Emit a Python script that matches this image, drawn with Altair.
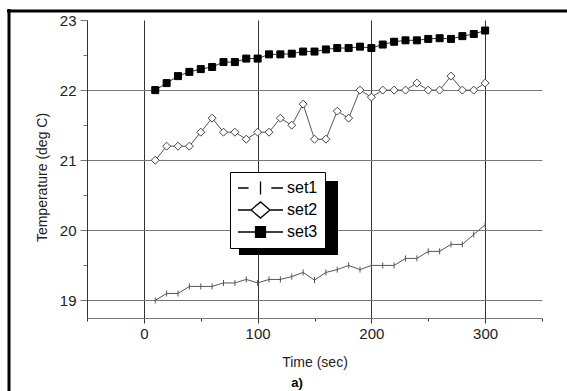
import altair as alt
import pandas as pd

# ---- data ----
time = list(range(10, 301, 10))
set1 = [19.0, 19.1, 19.1, 19.2, 19.2, 19.2, 19.25, 19.25, 19.3, 19.25,
        19.3, 19.3, 19.34, 19.4, 19.29, 19.4, 19.44, 19.5, 19.44, 19.5,
        19.5, 19.5, 19.6, 19.6, 19.7, 19.7, 19.8, 19.8, 19.94, 20.08]
set2 = [21.0, 21.2, 21.2, 21.2, 21.4, 21.6, 21.4, 21.4, 21.3, 21.4,
        21.4, 21.6, 21.5, 21.8, 21.3, 21.3, 21.7, 21.6, 22.0, 21.9,
        22.0, 22.0, 22.0, 22.1, 22.0, 22.0, 22.2, 22.0, 22.0, 22.1]
set3 = [22.0, 22.1, 22.2, 22.26, 22.3, 22.33, 22.4, 22.4, 22.45, 22.45,
        22.51, 22.51, 22.52, 22.55, 22.55, 22.58, 22.6, 22.6, 22.62, 22.6,
        22.65, 22.69, 22.71, 22.71, 22.73, 22.74, 22.73, 22.77, 22.8, 22.85]
series_names = ["set1", "set2", "set3"]
x_ticks = [-50, 0, 50, 100, 150, 200, 250, 300, 350]
y_ticks = [19, 19.5, 20, 20.5, 21, 21.5, 22, 22.5, 23]
caption = "a)"

FONT = "Liberation Sans"

df = pd.DataFrame({
    "time": time * 3,
    "temp": set1 + set2 + set3,
    "series": ["set1"] * len(time) + ["set2"] * len(time) + ["set3"] * len(time),
})

x_enc = alt.X(
    "time:Q",
    scale=alt.Scale(domain=[-50, 350], nice=False, zero=False),
    axis=alt.Axis(
        values=x_ticks, title="Time (sec)",
        labelExpr="datum.value % 100 === 0 ? '' + datum.value : ''",
        grid=True, gridColor="#333333", gridWidth=1,
        gridOpacity={"condition": {"test": "datum.value % 100 === 0", "value": 1}, "value": 0},
        tickSize={"condition": {"test": "datum.value % 100 === 0", "value": 5}, "value": 3},
        tickColor="#333333", domainColor="#777777",
        labelPadding=3, titlePadding=14,
    ),
)
y_enc = alt.Y(
    "temp:Q",
    scale=alt.Scale(domain=[18.75, 23], nice=False, zero=False),
    axis=alt.Axis(
        values=y_ticks, title="Temperature (deg C)",
        labelExpr="datum.value % 1 === 0 ? '' + datum.value : ''",
        grid=True, gridColor="#777777", gridWidth=1,
        gridOpacity={"condition": {"test": "datum.value % 1 === 0 && datum.value < 23", "value": 1}, "value": 0},
        tickSize={"condition": {"test": "datum.value % 1 === 0", "value": 7}, "value": 4},
        tickColor="#777777", domainColor="#333333",
        labelPadding=4, titlePadding=10, titleY=157,
    ),
)

base = alt.Chart(df)

def series_layers(name, line_color, shape, size, fill, stroke, stroke_width):
    d = base.transform_filter(alt.datum.series == name)
    line = d.mark_line(color=line_color, strokeWidth=1).encode(x=x_enc, y=y_enc)
    pts = d.mark_point(shape=shape, size=size, fill=fill, stroke=stroke,
                       strokeWidth=stroke_width, opacity=1, fillOpacity=1).encode(x=x_enc, y=y_enc)
    return [line, pts]

layers = []
layers += series_layers("set1", "#555555", "M0,-1L0,1", 36, "white", "#555555", 1)
layers += series_layers("set2", "#555555", "diamond", 64, "white", "#444444", 1)
layers += series_layers("set3", "#333333", "square", 49, "black", "black", 1)

one = pd.DataFrame({"a": [0]})

# legend shadow
shadow = alt.Chart(one).mark_rect(color="black").encode(
    x=alt.value(152), x2=alt.value(251), y=alt.value(161), y2=alt.value(235)
)

# outer frame (top and left edges visible), kept inside the canvas
frame_top = alt.Chart(one).mark_rule(color="black", strokeWidth=3).encode(
    x=alt.value(-80), x2=alt.value(480), y=alt.value(-9)
)
frame_left = alt.Chart(one).mark_rule(color="black", strokeWidth=3).encode(
    x=alt.value(-78), y=alt.value(-11), y2=alt.value(371)
)

# caption under the x-axis title
caption_layer = alt.Chart(pd.DataFrame({"t": [caption]})).mark_text(
    font=FONT, fontSize=13, fontWeight="bold", color="black", align="center", baseline="middle"
).encode(text="t:N", x=alt.value(210), y=alt.value(363))

# legend glyphs: line - marker - line (square filled with stacked strokes)
sq_fill = "".join(
    "M-0.25,%.3fL0.25,%.3f" % (v, v) for v in [-0.24 + 0.04 * i for i in range(13)]
)
legend_paths = [
    "M-1,0L-0.53,0M0,-0.29L0,0.29M0.48,0L1,0",
    "M-1,0L-0.42,0M-0.42,0L0,-0.36L0.42,0L0,0.36ZM0.42,0L1,0",
    "M-1,0L-0.25,0M0.25,0L1,0" + sq_fill,
]
leg = alt.Legend(
    title=None, orient="none", legendX=143, legendY=152,
    fillColor="white", strokeColor="black", padding=7,
    symbolSize=2025, clipHeight=18, rowPadding=4,
    labelFontSize=16, labelFont=FONT, labelColor="black", labelOffset=3,
    symbolStrokeWidth=1.3, symbolStrokeColor="black", symbolFillColor="white",
    symbolOpacity=1,
    labelExpr="datum.label + '  '",
)
legend_layer = alt.Chart(pd.DataFrame({"series": series_names})).transform_filter("false").mark_point(
    color="black", strokeWidth=1.3, filled=False
).encode(
    shape=alt.Shape("series:N", scale=alt.Scale(domain=series_names, range=legend_paths), legend=leg),
)

chart = alt.layer(*layers, shadow, frame_top, frame_left, caption_layer, legend_layer).properties(
    width=455, height=298,
    autosize=alt.AutoSizeParams(type="none"),
    padding={"left": 87, "top": 20, "right": 25, "bottom": 73},
    background="white",
).configure_view(stroke=None).configure_axis(
    labelFont=FONT, labelFontSize=15, labelColor="#222222",
    titleFont=FONT, titleFontSize=14, titleFontWeight="normal", titleColor="#222222",
    domainWidth=1, tickWidth=1,
)

chart.save("out.html", embed_options={"renderer": "svg", "actions": False})
